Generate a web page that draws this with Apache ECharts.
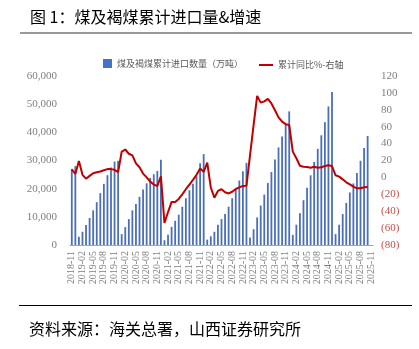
<!DOCTYPE html>
<html>
<head>
<meta charset="utf-8">
<script src="https://cdn.jsdelivr.net/npm/echarts@6/dist/echarts.min.js"></script>
<style>
html,body{margin:0;padding:0;background:#fff;}
#main{width:419px;height:349px;}
</style>
</head>
<body>
<div id="main"></div>
<script>
var categories = [
 '2018-11','2018-12',
 '2019-01','2019-02','2019-03','2019-04','2019-05','2019-06','2019-07','2019-08','2019-09','2019-10','2019-11','2019-12',
 '2020-01','2020-02','2020-03','2020-04','2020-05','2020-06','2020-07','2020-08','2020-09','2020-10','2020-11','2020-12',
 '2021-01','2021-02','2021-03','2021-04','2021-05','2021-06','2021-07','2021-08','2021-09','2021-10','2021-11','2021-12',
 '2022-01','2022-02','2022-03','2022-04','2022-05','2022-06','2022-07','2022-08','2022-09','2022-10','2022-11','2022-12',
 '2023-01','2023-02','2023-03','2023-04','2023-05','2023-06','2023-07','2023-08','2023-09','2023-10','2023-11','2023-12',
 '2024-01','2024-02','2024-03','2024-04','2024-05','2024-06','2024-07','2024-08','2024-09','2024-10','2024-11','2024-12',
 '2025-01','2025-02','2025-03','2025-04','2025-05','2025-06','2025-07','2025-08','2025-09','2025-10','2025-11'
];

// 煤及褐煤累计进口数量（万吨）
var importVolume = [
 27000, 28000,
 2900, 4700, 7100, 9600, 12300, 15200, 18400, 21700, 24800, 27500, 29600, 29900,
 3850, 6350, 9200, 12300, 14600, 17100, 19700, 21900, 23800, 25100, 26300, 30300,
 1700, 3600, 6450, 8600, 10750, 13600, 16600, 19450, 21750, 24350, 29000, 32250,
 1900, 3100, 4700, 7200, 9200, 11000, 13600, 16600, 19700, 22900, 26150, 29150,
 2650, 5600, 9800, 14000, 17900, 22000, 25900, 30350, 34650, 38500, 42700, 47450,
 3600, 7200, 11250, 15900, 20300, 24750, 29500, 34150, 38950, 43600, 49200, 54350,
 3850, 7200, 11000, 14950, 18650, 21850, 25600, 29900, 34400, 38700, null
];

// 累计同比%（右轴）
var yoyGrowth = [
 9.6, 4,
 19.5, 3, -1.5, 1.8, 5, 6, 7, 8.5, 9.8, 9.8, 9, 6.3,
 30.5, 33, 28, 26, 16.6, 12, 4.5, 0, -5, -8.5, -10.2, 1.2,
 -54, -41, -29, -29, -25.5, -20, -14, -8.5, -3, 3, 10.5, 6.6,
 17.5, -12, -24, -16, -14, -17.5, -19, -17, -13.7, -11.8, -10.2, -9.8,
 26, 62, 96.5, 88.5, 90, 93, 87.5, 79.5, 71, 66, 63, 62,
 30.5, 22.6, 13.8, 12.7, 12.3, 11.5, 12.7, 11.5, 11.9, 13.5, 14.3, 13.5,
 2.5, 0.9, -2.3, -5.8, -8.2, -11, -12.9, -12.9, -11.7, -11.3, null
];

var leftTicks = {min: 0, max: 60000, interval: 10000};
var rightTicks = {min: -80, max: 120, interval: 20};

var titleText = '图 1：煤及褐煤累计进口量&增速';
var sourceText = '资料来源：海关总署，山西证券研究所';
var barName = '煤及褐煤累计进口数量（万吨）';
var lineName = '累计同比%-右轴';

var chart = echarts.init(document.getElementById('main'), null, {renderer: 'canvas'});
var cjk = '"Noto Sans CJK SC", sans-serif';
var serif = '"Liberation Serif", "DejaVu Serif", serif';

function commas(v){ return String(v).replace(/\B(?=(\d{3})+(?!\d))/g, ','); }

chart.setOption({
  animation: false,
  backgroundColor: '#fff',
  title: [
    {text: titleText, left: 25, top: 4, textStyle: {fontFamily: cjk, fontSize: 16, fontWeight: 'normal', color: '#000'}},
    {text: sourceText, left: 24, top: 316, textStyle: {fontFamily: cjk, fontSize: 16, fontWeight: 'normal', color: '#000'}}
  ],
  graphic: [
    {type: 'rect', shape: {x: 20, y: 32, width: 392, height: 2}, style: {fill: '#999'}, silent: true},
    {type: 'rect', shape: {x: 19, y: 305, width: 393, height: 1}, style: {fill: '#000'}, silent: true}
  ],
  legend: [
    {data: [{name: barName, icon: 'rect', itemStyle: {color: '#4472C4'}}], left: 98, top: 54, itemWidth: 9, itemHeight: 9,
     textStyle: {fontFamily: cjk, fontSize: 9, color: '#595959'}},
    {data: [{name: lineName, icon: 'rect'}], left: 254, top: 54, itemWidth: 14, itemHeight: 2,
     textStyle: {fontFamily: cjk, fontSize: 9, color: '#595959', lineHeight: 12}}
  ],
  grid: {left: 70, right: 46, top: 76, bottom: 104, containLabel: false},
  xAxis: {
    type: 'category',
    data: categories,
    boundaryGap: true,
    axisLine: {lineStyle: {color: '#A6A6A6', width: 1}},
    axisTick: {interval: 2, alignWithLabel: true, length: 4, lineStyle: {color: '#A6A6A6'}},
    axisLabel: {interval: 2, rotate: 90, fontFamily: serif, fontSize: 10, color: '#7F7F7F', margin: 6}
  },
  yAxis: [
    {type: 'value', min: leftTicks.min, max: leftTicks.max, interval: leftTicks.interval,
     splitLine: {show: false}, axisLine: {show: false}, axisTick: {show: false},
     axisLabel: {fontFamily: serif, fontSize: 11, color: '#7F7F7F', margin: 13, formatter: function(v){return commas(v);}}},
    {type: 'value', min: rightTicks.min, max: rightTicks.max, interval: rightTicks.interval,
     splitLine: {show: false}, axisLine: {show: false}, axisTick: {show: false},
     axisLabel: {fontFamily: serif, fontSize: 11, color: '#7F7F7F', margin: 8,
       formatter: function(v){ return v < 0 ? '{n|(' + (-v) + ')}' : String(v); },
       rich: {n: {color: '#C0504D', fontFamily: serif, fontSize: 11}}}}
  ],
  series: [
    {name: barName, type: 'bar', data: importVolume, yAxisIndex: 0, barWidth: 1.8,
     itemStyle: {color: '#4A6FB5'}},
    {name: lineName, type: 'line', data: yoyGrowth, yAxisIndex: 1, symbol: 'none', smooth: false,
     lineStyle: {color: '#C00000', width: 2}, itemStyle: {color: '#C00000'}}
  ]
});
</script>
</body>
</html>
